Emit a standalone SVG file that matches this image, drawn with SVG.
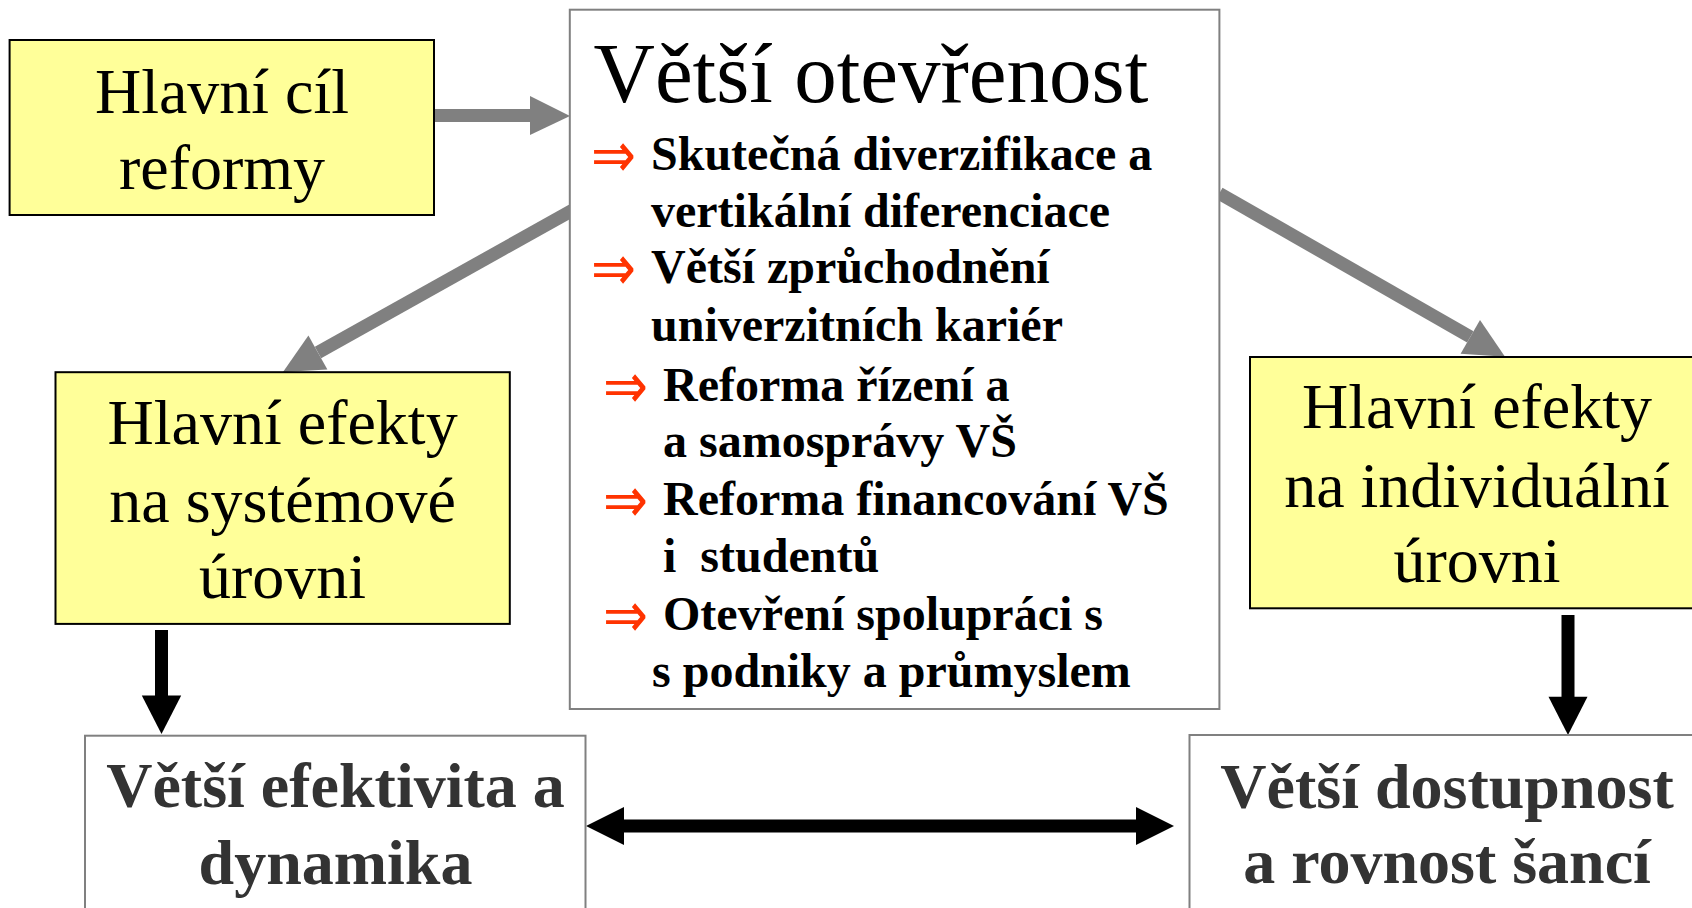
<svg xmlns="http://www.w3.org/2000/svg" width="1692" height="908" viewBox="0 0 1692 908">
<style>
.yb{fill:#FFFF99;stroke:#000;stroke-width:2}
.gb{fill:#fff;stroke:#808080;stroke-width:2}
.yt{font-family:"Liberation Serif","Times New Roman",serif;font-size:64px;fill:#000;text-anchor:middle}
.bt{font-family:"Liberation Serif","Times New Roman",serif;font-size:64px;font-weight:bold;fill:#333;text-anchor:middle}
.ti{font-family:"Liberation Serif","Times New Roman",serif;font-size:85px;fill:#000}
.li{font-family:"Liberation Serif","Times New Roman",serif;font-size:48px;font-weight:bold;fill:#000}
.ar{font-family:"DejaVu Sans",sans-serif;font-size:64px;fill:#FF3300}
.gs{stroke:#808080;stroke-width:13;fill:none}
.gh{fill:#808080}
.ks{stroke:#000;stroke-width:13;fill:none}
.kh{fill:#000}
</style>
<rect width="1692" height="908" fill="#fff"/>
<g id="connectors">
<line class="gs" x1="434" y1="115.5" x2="531" y2="115.5"/>
<polygon class="gh" points="530,96 570,116 530,135"/>
<line class="gs" x1="572" y1="210.5" x2="318" y2="352.5"/>
<polygon class="gh" points="327.4,369.5 283,372 308.4,335.5"/>
<line class="gs" x1="1219.3" y1="193.3" x2="1470.3" y2="336.8"/>
<polygon class="gh" points="1460.6,353.7 1505,356.7 1480,319.9"/>
<line class="ks" x1="161.5" y1="630" x2="161.5" y2="697"/>
<polygon class="kh" points="141.8,695.5 181.2,695.5 161.5,734"/>
<line class="ks" x1="1568" y1="615" x2="1568" y2="698"/>
<polygon class="kh" points="1548.5,696.7 1587.5,696.7 1568,735"/>
<line class="ks" x1="622" y1="826" x2="1138" y2="826"/>
<polygon class="kh" points="624,807 586,826 624,845"/>
<polygon class="kh" points="1136,807 1174,826 1136,845"/>
</g>
<g id="goal">
<rect class="yb" x="9.6" y="40" width="424.4" height="175"/>
<text class="yt" x="222" y="113">Hlavní cíl</text>
<text class="yt" x="222" y="189">reformy</text>
</g>
<g id="openness">
<rect class="gb" x="569.8" y="9.7" width="649.6" height="699.3"/>
<text class="ti" x="593.5" y="102">Větší otevřenost</text>
<text class="ar" x="591" y="177" textLength="45" lengthAdjust="spacingAndGlyphs">⇒</text>
<text class="li" x="651" y="170">Skutečná diverzifikace a</text>
<text class="li" x="651" y="227">vertikální diferenciace</text>
<text class="ar" x="591" y="290" textLength="45" lengthAdjust="spacingAndGlyphs">⇒</text>
<text class="li" x="651" y="283">Větší zprůchodnění</text>
<text class="li" x="651" y="341">univerzitních kariér</text>
<text class="ar" x="603" y="408" textLength="45" lengthAdjust="spacingAndGlyphs">⇒</text>
<text class="li" x="663" y="401">Reforma řízení a</text>
<text class="li" x="663" y="457">a samosprávy VŠ</text>
<text class="ar" x="603" y="522" textLength="45" lengthAdjust="spacingAndGlyphs">⇒</text>
<text class="li" x="663" y="515">Reforma financování VŠ</text>
<text class="li" x="663" y="572" xml:space="preserve">i  studentů</text>
<text class="ar" x="603" y="637" textLength="45" lengthAdjust="spacingAndGlyphs">⇒</text>
<text class="li" x="663" y="630">Otevření spolupráci s</text>
<text class="li" x="652" y="687">s podniky a průmyslem</text>
</g>
<g id="system-effects">
<rect class="yb" x="55.5" y="372.2" width="454.3" height="251.7"/>
<text class="yt" x="282.6" y="444">Hlavní efekty</text>
<text class="yt" x="282.6" y="521.5">na systémové</text>
<text class="yt" x="282.6" y="598">úrovni</text>
</g>
<g id="individual-effects">
<rect class="yb" x="1250" y="357" width="460" height="251.3"/>
<text class="yt" x="1477" y="428.3">Hlavní efekty</text>
<text class="yt" x="1477" y="506.7">na individuální</text>
<text class="yt" x="1477" y="581.7">úrovni</text>
</g>
<g id="efficiency">
<rect class="gb" x="85" y="735.7" width="500.5" height="200"/>
<text class="bt" x="335.5" y="807.4">Větší efektivita a</text>
<text class="bt" x="335.5" y="884">dynamika</text>
</g>
<g id="access">
<rect class="gb" x="1189.5" y="735" width="520" height="200"/>
<text class="bt" x="1447" y="808">Větší dostupnost</text>
<text class="bt" x="1447" y="883">a rovnost šancí</text>
</g>
</svg>
